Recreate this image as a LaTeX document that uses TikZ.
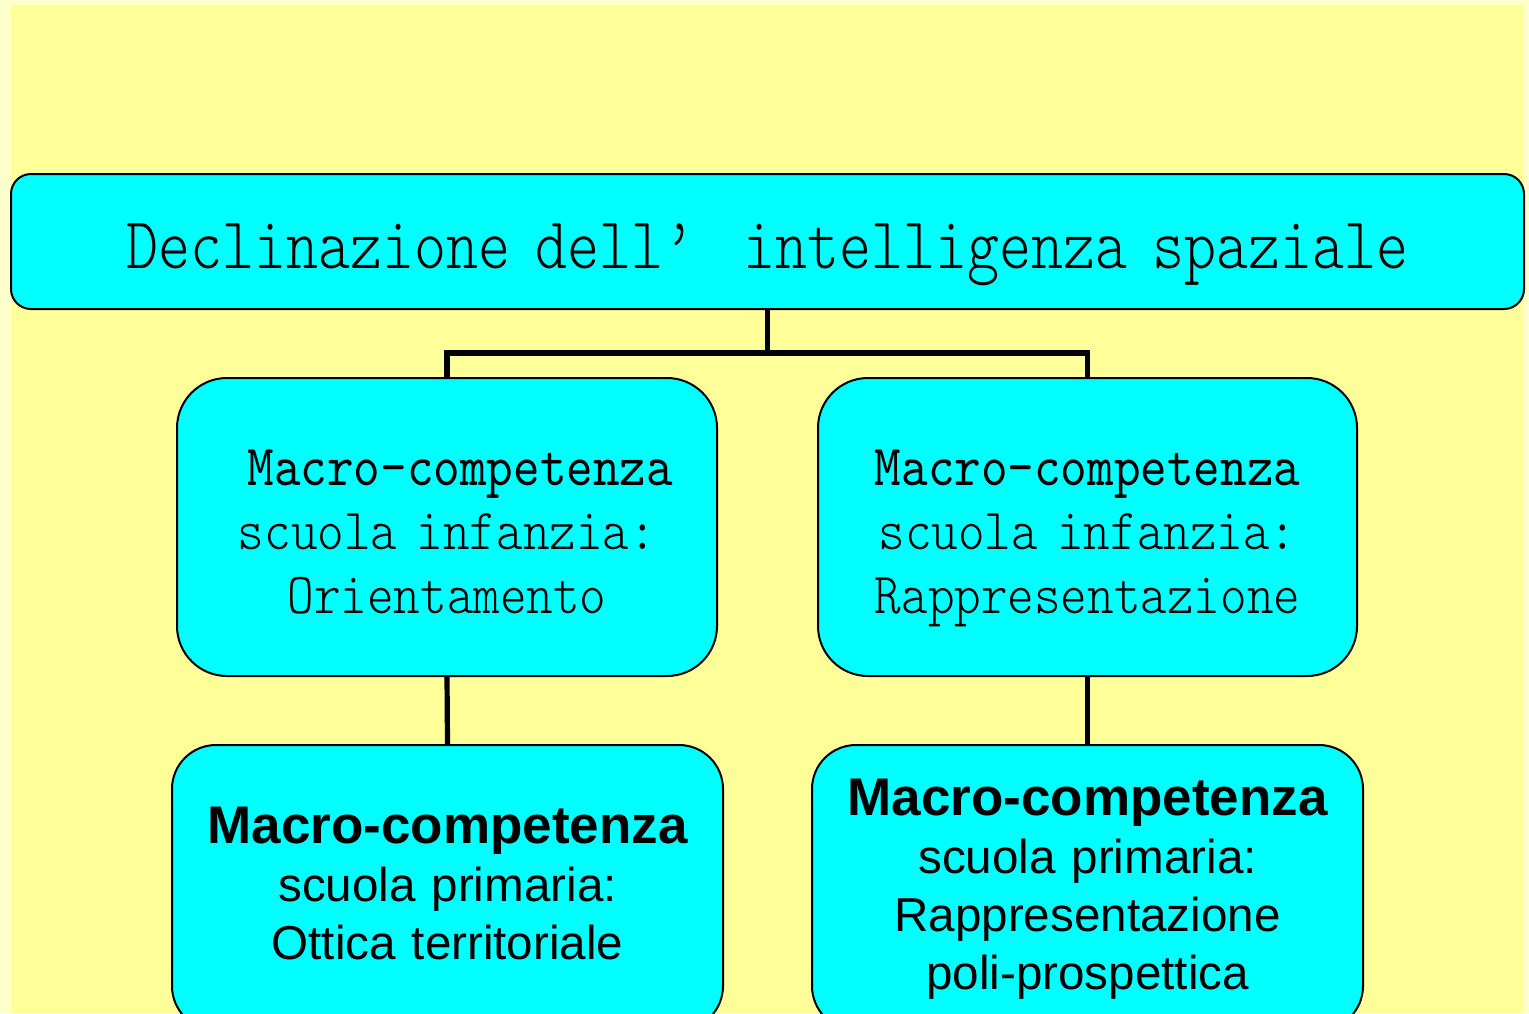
\documentclass[tikz,border=0pt]{standalone}
\usepackage{fontspec}
\newfontfamily\arialf{Liberation Sans}
\newfontfamily\monotop[Extension=.otf, FakeStretch=0.833, BoldFont=lmmono10-regular]{lmmonolt10-regular}
\newfontfamily\monomid[Extension=.otf, FakeStretch=0.87, BoldFont=lmmono10-regular]{lmmonolt10-regular}
\usetikzlibrary{calc}
\definecolor{bgout}{HTML}{FFFFCC}
\definecolor{bgin}{HTML}{FFFF99}
\definecolor{boxc}{HTML}{00FFFF}
\begin{document}
\begin{tikzpicture}[x=0.5pt,y=-0.5pt,
  box/.style={draw=black, line width=1pt, fill=boxc, inner sep=0pt, anchor=base, align=center},
  midfont/.style={font=\monomid\fontsize{29.1}{32}\selectfont},
  lowfont/.style={font=\arialf\fontsize{23.8}{29}\selectfont},
  conn/.style={line width=2.6pt, draw=black}]
\useasboundingbox (0,0) rectangle (1529,1013);
\fill[bgout] (0,0) rectangle (1529,1013);
\fill[bgin] (11,5) rectangle (1524,1013);
\node[box, rounded corners=10pt, text width=756.5pt, text height=47pt, text depth=20.5pt,
  font=\monotop\fontsize{36.6}{40}\selectfont] (top) at (767.5,268)
  {Declinazione dell’\ \ intelligenza spaziale};
\node[box, midfont, rounded corners=25pt, text width=270pt, text height=53.5pt, text depth=95.5pt] (ml) at (447,485)
  {{\bfseries\hphantom{M}Macro-competenza}\\scuola infanzia:\\Orientamento};
\node[box, midfont, rounded corners=25pt, text width=269.5pt, text height=53.5pt, text depth=95.5pt] (mr) at (1087.5,485)
  {{\bfseries Macro-competenza}\\scuola infanzia:\\Rappresentazione};
\node[box, lowfont, rounded corners=22pt, text width=275.5pt, text height=49pt, text depth=93.5pt] (bl) at (447.5,843)
  {{\fontsize{26.5}{29}\selectfont\bfseries Macro-competenza}\\scuola primaria:\\Ottica territoriale};
\node[box, lowfont, rounded corners=22pt, text width=275.5pt, text height=35pt, text depth=107.5pt] (br) at (1087.5,815)
  {{\fontsize{26.5}{29}\selectfont\bfseries Macro-competenza}\\scuola primaria:\\Rappresentazione\\poli-prospettica};
\coordinate (j) at ([yshift=-21.5pt]top.south);
\draw[conn] (top.south) -- (j);
\draw[conn] (ml.north) |- (j) -| (mr.north);
\draw[conn] (ml.south) -- (bl.north);
\draw[conn] (mr.south) -- (br.north);
\end{tikzpicture}
\end{document}
